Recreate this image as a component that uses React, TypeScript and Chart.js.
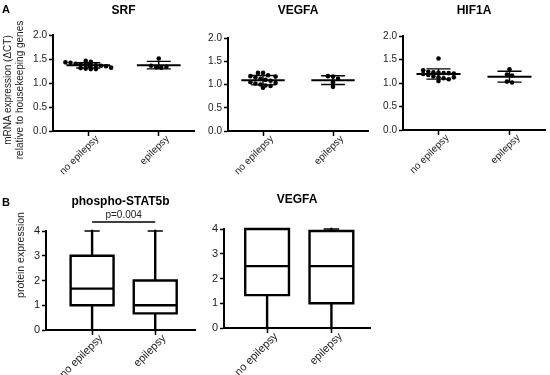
import React, { useEffect, useRef } from 'react';
import { Chart, registerables } from 'chart.js';

Chart.register(...registerables);

const FONT = '"Liberation Sans", Arial, Helvetica, sans-serif';

// ---------- data ----------
const groups = ['no epilepsy', 'epilepsy'];

const srfNoEpilepsy = [1.46, 1.44, 1.43, 1.42, 1.40, 1.39, 1.38, 1.37, 1.37, 1.36, 1.35, 1.32, 1.31, 1.30, 1.29, 1.29];
const srfEpilepsy = [1.51, 1.36, 1.33, 1.32, 1.34];

const vegfaMrnaNoEpilepsy = [1.25, 1.25, 1.20, 1.18, 1.15, 1.12, 1.10, 1.08, 1.05, 1.02, 1.00, 0.98, 0.97, 0.93, 1.17, 1.03];
const vegfaMrnaEpilepsy = [1.18, 1.17, 1.12, 1.05, 0.95];

const hif1aNoEpilepsy = [1.52, 1.27, 1.24, 1.23, 1.22, 1.21, 1.21, 1.20, 1.19, 1.17, 1.14, 1.12, 1.10, 1.08, 1.04, 1.12];
const hif1aEpilepsy = [1.29, 1.18, 1.16, 1.03, 1.01];

// box summaries: [min, q1, median, q3, max]
const stat5bNoEpilepsy = [0, 1, 1.67, 3, 4];
const stat5bEpilepsy = [0, 0.67, 1, 2, 4];
const vegfaProteinNoEpilepsy = [0, 1.33, 2.5, 4, 4];
const vegfaProteinEpilepsy = [0, 1, 2.5, 3.92, 4];

const pValueLabel = 'p=0.004';
const pValueLevel = 4.36;

const mrnaTitleLines = ['mRNA expression (\u0394CT)', 'relative to housekeeping genes'];
const proteinTitle = 'protein expression';

// ---------- helpers ----------
const mean = (a: number[]) => a.reduce((s, v) => s + v, 0) / a.length;
const sd = (a: number[]) => {
  const m = mean(a);
  return Math.sqrt(a.reduce((s, v) => s + (v - m) * (v - m), 0) / (a.length - 1));
};

// Prism-like column scatter: points with similar values are laid side by side
function dotPositions(values: number[], center: number, binSize: number, spacing: number) {
  const bins = new Map<number, number[]>();
  values.forEach((v, i) => {
    const b = Math.floor(v / binSize + 1e-9);
    if (!bins.has(b)) bins.set(b, []);
    bins.get(b)!.push(i);
  });
  const pts: { x: number; y: number }[] = [];
  bins.forEach((idx) => {
    const m = idx.length;
    idx.forEach((i, k) => pts.push({ x: center + (k - (m - 1) / 2) * spacing, y: values[i] }));
  });
  return pts;
}

const MEAN_HW = 0.31;
const SD_CAP_HW = 0.17;

function meanLineData(values: number[], c: number) {
  const m = mean(values);
  return [{ x: c - MEAN_HW, y: m }, { x: c + MEAN_HW, y: m }];
}

function sdBarData(values: number[], c: number) {
  const m = mean(values);
  const s = sd(values);
  return [
    { x: c, y: m - s }, { x: c, y: m + s }, { x: c, y: null },
    { x: c - SD_CAP_HW, y: m + s }, { x: c + SD_CAP_HW, y: m + s }, { x: c, y: null },
    { x: c - SD_CAP_HW, y: m - s }, { x: c + SD_CAP_HW, y: m - s },
  ];
}

const BOX_HW = 0.34;
const WHISKER_CAP_HW = 0.12;

function boxData(q: number[], c: number) {
  const [mn, q1, med, q3, mx] = q;
  return [
    { x: c - BOX_HW, y: q1 }, { x: c + BOX_HW, y: q1 }, { x: c + BOX_HW, y: q3 }, { x: c - BOX_HW, y: q3 }, { x: c - BOX_HW, y: q1 }, { x: c, y: null },
    { x: c - BOX_HW, y: med }, { x: c + BOX_HW, y: med }, { x: c, y: null },
    { x: c, y: q3 }, { x: c, y: mx }, { x: c, y: null },
    { x: c, y: q1 }, { x: c, y: mn },
  ];
}

function capData(q: number[], c: number) {
  const mx = q[4];
  return [{ x: c - WHISKER_CAP_HW, y: mx }, { x: c + WHISKER_CAP_HW, y: mx }];
}

const lineDataset = (data: any[], width: number, cap = 'square') => ({
  data,
  showLine: true,
  spanGaps: false,
  pointRadius: 0,
  borderColor: '#000',
  borderWidth: width,
  borderCapStyle: cap,
  borderJoinStyle: 'miter',
  fill: false,
  clip: 6,
});

const dotDataset = (data: any[]) => ({
  data,
  showLine: false,
  pointRadius: 2.3,
  pointBackgroundColor: '#000',
  pointBorderWidth: 0,
  clip: 6,
});

const pBracketPlugin = {
  id: 'pBracket',
  afterDatasetsDraw(chart: any, _args: any, opts: any) {
    if (!opts || !opts.label) return;
    const { ctx, scales } = chart;
    const x1 = scales.x.getPixelForValue(1);
    const x2 = scales.x.getPixelForValue(2);
    const yy = scales.y.getPixelForValue(opts.level);
    ctx.save();
    ctx.strokeStyle = '#000';
    ctx.lineWidth = 1.5;
    ctx.beginPath();
    ctx.moveTo(x1, yy);
    ctx.lineTo(x2, yy);
    ctx.stroke();
    ctx.fillStyle = '#222';
    ctx.font = `10px ${FONT}`;
    ctx.textAlign = 'center';
    ctx.textBaseline = 'bottom';
    ctx.fillText(opts.label, (x1 + x2) / 2, yy - 2);
    ctx.restore();
  },
};

interface Layout {
  yWidth: number;
  xHeight: number;
  padRight: number;
  titlePadTop: number;
  titlePadBottom: number;
}

function baseOptions(
  title: string,
  lay: Layout,
  xMin: number,
  xMax: number,
  yMax: number,
  yStep: number,
  majorEvery: number,
  fontSize: number,
  decimals: number,
  extraPlugins: any = {}
) {
  return {
    responsive: false,
    animation: false,
    events: [],
    layout: { padding: { left: 0, right: lay.padRight, top: 0, bottom: 0 } },
    plugins: {
      legend: { display: false },
      tooltip: { enabled: false },
      title: {
        display: true,
        text: title,
        fullSize: false,
        color: '#000',
        font: { family: FONT, size: 12, weight: 'bold' },
        padding: { top: lay.titlePadTop, bottom: lay.titlePadBottom },
      },
      ...extraPlugins,
    },
    scales: {
      x: {
        type: 'linear',
        min: xMin,
        max: xMax,
        afterBuildTicks: (scale: any) => {
          scale.ticks = groups.map((_, i) => ({ value: i + 1 }));
        },
        afterFit: (scale: any) => {
          scale.height = lay.xHeight;
        },
        ticks: {
          autoSkip: false,
          minRotation: 45,
          maxRotation: 45,
          padding: -3,
          labelOffset: 9,
          color: '#222',
          font: { family: FONT, size: fontSize },
          callback: (v: number) => groups[Math.round(v) - 1] ?? '',
        },
        grid: { display: true, drawOnChartArea: false, drawTicks: true, tickLength: 5, color: '#000', tickColor: '#000', tickWidth: 1.5 },
        border: { display: true, color: '#000', width: 2 },
      },
      y: {
        type: 'linear',
        min: 0,
        max: yMax,
        afterFit: (scale: any) => {
          scale.width = lay.yWidth;
        },
        ticks: {
          stepSize: yStep,
          padding: 2,
          color: '#222',
          font: { family: FONT, size: fontSize },
          callback: (v: number) => {
            const r = v / majorEvery;
            return Math.abs(r - Math.round(r)) < 1e-6 ? v.toFixed(decimals) : '';
          },
        },
        grid: {
          display: true,
          drawOnChartArea: false,
          drawTicks: true,
          tickLength: 4,
          color: '#000',
          tickColor: '#000',
          tickWidth: (ctx: any) => {
            const v = ctx.tick ? ctx.tick.value : 0;
            const r = v / majorEvery;
            return Math.abs(r - Math.round(r)) < 1e-6 ? 1.5 : 1;
          },
        },
        border: { display: true, color: '#000', width: 2 },
      },
    },
  };
}

function scatterConfig(title: string, noEp: number[], ep: number[], lay: Layout) {
  return {
    type: 'scatter',
    data: {
      datasets: [
        dotDataset(dotPositions(noEp, 1, 0.12, 0.072)),
        dotDataset(dotPositions(ep, 2, 0.12, 0.072)),
        lineDataset(meanLineData(noEp, 1), 2, 'butt'),
        lineDataset(meanLineData(ep, 2), 2, 'butt'),
        lineDataset(sdBarData(noEp, 1), 1.4, 'butt'),
        lineDataset(sdBarData(ep, 2), 1.4, 'butt'),
      ],
    },
    options: baseOptions(title, lay, 0.5, 2.5, 2, 0.25, 0.5, 10, 1),
  };
}

function boxConfig(title: string, noEp: number[], ep: number[], lay: Layout, xMin: number, xMax: number, bracket: boolean) {
  return {
    type: 'scatter',
    data: {
      datasets: [
        lineDataset(boxData(noEp, 1), 2.4),
        lineDataset(boxData(ep, 2), 2.4),
        lineDataset(capData(noEp, 1), 1.5, 'butt'),
        lineDataset(capData(ep, 2), 1.5, 'butt'),
      ],
    },
    options: baseOptions(
      title,
      lay,
      xMin,
      xMax,
      4,
      1,
      1,
      11,
      0,
      bracket ? { pBracket: { label: pValueLabel, level: pValueLevel } } : {}
    ),
    plugins: bracket ? [pBracketPlugin] : [],
  };
}

function ChartCanvas({ left, top, width, height, make }: { left: number; top: number; width: number; height: number; make: () => any }) {
  const ref = useRef<HTMLCanvasElement>(null);
  useEffect(() => {
    const chart = new Chart(ref.current as HTMLCanvasElement, make());
    return () => chart.destroy();
  }, []);
  return (
    <canvas
      ref={ref}
      width={width}
      height={height}
      style={{ position: 'absolute', left, top, width, height, display: 'block' }}
    />
  );
}

const rotatedTitle = (cx: number, cy: number, size: number, lineH: number): React.CSSProperties => ({
  position: 'absolute',
  left: cx,
  top: cy,
  transform: 'translate(-50%, -50%) rotate(-90deg)',
  whiteSpace: 'nowrap',
  textAlign: 'center',
  fontFamily: FONT,
  fontSize: size,
  lineHeight: `${lineH}px`,
  color: '#222',
});

const letterStyle = (x: number, y: number): React.CSSProperties => ({
  position: 'absolute',
  left: x,
  top: y,
  fontFamily: FONT,
  fontWeight: 'bold',
  fontSize: 11,
  lineHeight: '13px',
  color: '#000',
});

export default function App() {
  return (
    <div style={{ position: 'absolute', left: 0, top: 0, width: 550, height: 375, background: '#fff', overflow: 'hidden' }}>
      <ChartCanvas
        left={0}
        top={0}
        width={198}
        height={185}
        make={() => scatterConfig('SRF', srfNoEpilepsy, srfEpilepsy, { yWidth: 53, xHeight: 54, padRight: 2, titlePadTop: 3.8, titlePadBottom: 16.8 })}
      />
      <ChartCanvas
        left={198}
        top={0}
        width={174}
        height={185}
        make={() => scatterConfig('VEGFA', vegfaMrnaNoEpilepsy, vegfaMrnaEpilepsy, { yWidth: 30, xHeight: 54, padRight: 2, titlePadTop: 3.8, titlePadBottom: 19.8 })}
      />
      <ChartCanvas
        left={372}
        top={0}
        width={178}
        height={185}
        make={() => scatterConfig('HIF1A', hif1aNoEpilepsy, hif1aEpilepsy, { yWidth: 31, xHeight: 55, padRight: 5, titlePadTop: 3.8, titlePadBottom: 17.8 })}
      />
      <ChartCanvas
        left={0}
        top={190}
        width={198}
        height={185}
        make={() => boxConfig('phospho-STAT5b', stat5bNoEpilepsy, stat5bEpilepsy, { yWidth: 46, xHeight: 45, padRight: 3, titlePadTop: 4.8, titlePadBottom: 21.8 }, 0.27, 2.63, true)}
      />
      <ChartCanvas
        left={198}
        top={190}
        width={174}
        height={185}
        make={() => boxConfig('VEGFA', vegfaProteinNoEpilepsy, vegfaProteinEpilepsy, { yWidth: 26, xHeight: 47, padRight: 2, titlePadTop: 2.8, titlePadBottom: 21.8 }, 0.33, 2.6, false)}
      />
      <div style={letterStyle(2, 3)}>A</div>
      <div style={letterStyle(2, 196)}>B</div>
      <div style={rotatedTitle(13, 90, 10, 11.5)}>
        {mrnaTitleLines[0]}
        <br />
        {mrnaTitleLines[1]}
      </div>
      <div style={rotatedTitle(20, 255, 10.5, 12)}>{proteinTitle}</div>
    </div>
  );
}
